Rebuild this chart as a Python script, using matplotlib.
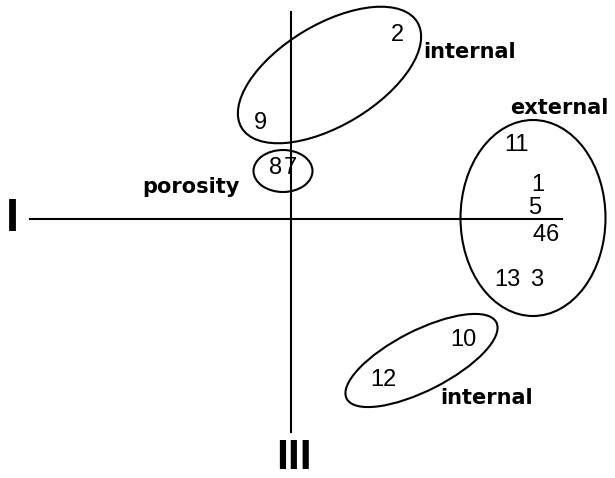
import matplotlib
matplotlib.use("Agg")
import matplotlib.pyplot as plt
from matplotlib.patches import Ellipse

# sample scores on axis I (x) and axis III (y)
labels = ["1", "2", "3", "4", "5", "6", "7", "8", "9", "10", "11", "12", "13"]
score_I = [2.47, 1.06, 2.46, 2.485, 2.44, 2.615, -0.01, -0.15, -0.31, 1.72, 2.26, 0.92, 2.16]
score_III = [0.34, 1.84, -0.61, -0.16, 0.11, -0.16, 0.51, 0.51, 0.96, -1.21, 0.74, -1.61, -0.61]

# groups drawn as ellipses
group_names = ["internal", "porosity", "external", "internal"]
group_cx = [0.385, -0.08, 2.42, 1.305]
group_cy = [1.44, 0.48, 0.01, -1.415]
group_w = [2.05, 0.59, 1.45, 1.68]
group_h = [1.01, 0.42, 1.96, 0.60]
group_ang = [31, 0, 0, 27]
name_x = [1.32, -1.49, 2.19, 1.49]
name_y = [1.67, 0.32, 1.11, -1.79]

fig = plt.figure(figsize=(6.15, 4.78), dpi=100)
ax = fig.add_axes([0, 0, 1, 1])
ax.set_xlim(-2.91, 3.24)
ax.set_ylim(-2.59, 2.19)
ax.axis("off")

# axes I and III
ax.plot([-2.61, 2.71], [0, 0], color="black", lw=1.5)
ax.plot([0, 0], [-2.13, 2.07], color="black", lw=1.5)
ax.text(-2.79, 0.0, "I", fontsize=34, fontweight="bold", ha="center", va="center",
        family=["Liberation Sans Narrow", "Liberation Sans"])
ax.text(0.03, -2.585, "III", fontsize=31, fontweight="bold", ha="center", va="bottom",
        family=["Liberation Sans Narrow", "Liberation Sans"])

for cx, cy, w, h, a in zip(group_cx, group_cy, group_w, group_h, group_ang):
    ax.add_patch(Ellipse((cx, cy), w, h, angle=a, fill=False, color="black", lw=1.5))

for nm, nx, ny in zip(group_names, name_x, name_y):
    ax.text(nx, ny, nm, fontsize=15, fontweight="bold", ha="left", va="center",
            family="DejaVu Sans")

for lab, x, y in zip(labels, score_I, score_III):
    ax.text(x, y, lab, fontsize=17, ha="center", va="center", family="Liberation Sans")

fig.savefig("out.png", dpi=100)
